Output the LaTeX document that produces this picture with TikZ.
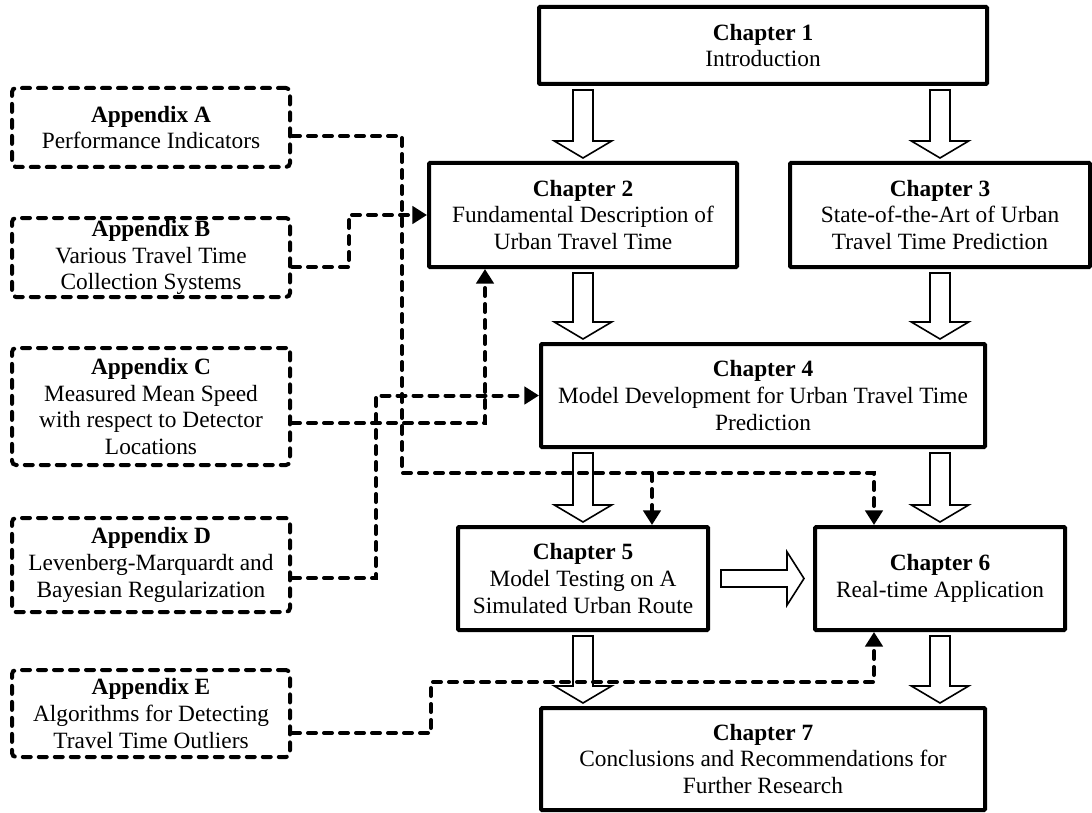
\documentclass[tikz,border=0pt]{standalone}
\usepackage{fontspec}
\setmainfont{Liberation Serif}
\usetikzlibrary{calc,arrows.meta}

% hollow block arrow pointing down, from #1 (tail) to #2 (tip)
\newcommand\hollowdown[2]{%
  \draw[hollow] let \p1=(#1), \p2=(#2) in
    (\x1-7.5pt,\y1) -- (\x1-7.5pt,\y2+12.75pt) -- (\x1-21.5pt,\y2+12.75pt) -- (\x1,\y2)
    -- (\x1+21.5pt,\y2+12.75pt) -- (\x1+7.5pt,\y2+12.75pt) -- (\x1+7.5pt,\y1) -- cycle;}
% hollow block arrow pointing right
\newcommand\hollowright[2]{%
  \draw[hollow] let \p1=(#1), \p2=(#2) in
    (\x1,\y1+6.4pt) -- (\x2-12.75pt,\y1+6.4pt) -- (\x2-12.75pt,\y1+20pt) -- (\x2,\y1)
    -- (\x2-12.75pt,\y1-20pt) -- (\x2-12.75pt,\y1-6.4pt) -- (\x1,\y1-6.4pt) -- cycle;}

\begin{document}
\begin{tikzpicture}[x=0.75pt,y=-0.75pt,
  txt/.style={font=\fontsize{17.5}{20}\selectfont,align=center,inner sep=0pt},
  chap/.style={txt,draw,line width=3pt,rounded corners=0.8pt},
  appx/.style={txt,draw,line width=3pt,dash pattern=on 6pt off 6pt,line cap=round,rounded corners=3pt},
  dconn/.style={line width=3pt,dash pattern=on 6pt off 6pt,line cap=round,
                -{Triangle[length=11pt,width=13pt]}},
  hollow/.style={draw,line width=1.2pt,fill=white,line join=miter},
]
\fill[white] (0,0) rectangle (1092,813);
\useasboundingbox (0,0) rectangle (1092,813);

% column positions
\coordinate (colL) at (583,0);
\coordinate (colR) at (940,0);
\coordinate (tap5) at (652,0);
\coordinate (tap6) at (874,0);

% chapters
\node[chap,minimum width=448*0.75pt,minimum height=77*0.75pt] (c1) at (763,45.5)
  {\textbf{Chapter 1}\\Introduction};
\node[chap,minimum width=308*0.75pt,minimum height=104*0.75pt] (c2) at (583,215)
  {\textbf{Chapter 2}\\Fundamental Description of\\Urban Travel Time};
\node[chap,minimum width=300*0.75pt,minimum height=104*0.75pt] (c3) at (940,215)
  {\textbf{Chapter 3}\\State-of-the-Art of Urban\\Travel Time Prediction};
\node[chap,minimum width=444*0.75pt,minimum height=103*0.75pt] (c4) at (763,395.5)
  {\textbf{Chapter 4}\\Model Development for Urban Travel Time\\Prediction};
\node[chap,minimum width=250*0.75pt,minimum height=103*0.75pt] (c5) at (583,578.5)
  {\textbf{Chapter 5}\\Model Testing on A\\Simulated Urban Route};
\node[chap,minimum width=250*0.75pt,minimum height=103*0.75pt] (c6) at (940,578.5)
  {\textbf{Chapter 6}\\Real-time Application};
\node[chap,minimum width=444*0.75pt,minimum height=102*0.75pt] (c7) at (763,759)
  {\textbf{Chapter 7}\\Conclusions and Recommendations for\\Further Research};

% appendices
\node[appx,minimum width=278*0.75pt,minimum height=79*0.75pt] (appA) at (151,127.5)
  {\textbf{Appendix A}\\Performance Indicators};
\node[appx,minimum width=278*0.75pt,minimum height=79*0.75pt] (appB) at (151,257.5)
  {\textbf{Appendix B}\\Various Travel Time\\Collection Systems};
\node[appx,minimum width=278*0.75pt,minimum height=117*0.75pt] (appC) at (151,406.5)
  {\textbf{Appendix C}\\Measured Mean Speed\\with respect to Detector\\Locations};
\node[appx,minimum width=278*0.75pt,minimum height=94*0.75pt] (appD) at (151,565)
  {\textbf{Appendix D}\\Levenberg-Marquardt and\\Bayesian Regularization};
\node[appx,minimum width=278*0.75pt,minimum height=87*0.75pt] (appE) at (151,713.5)
  {\textbf{Appendix E}\\Algorithms for Detecting\\Travel Time Outliers};

% reading order between chapters
\hollowdown{$(c1.south -| colL)+(0,4)$}{$(c2.north -| colL)+(0,-3)$}
\hollowdown{$(c1.south -| colR)+(0,4)$}{$(c3.north -| colR)+(0,-3)$}
\hollowdown{$(c2.south -| colL)+(0,4)$}{$(c4.north -| colL)+(0,-3)$}
\hollowdown{$(c3.south -| colR)+(0,4)$}{$(c4.north -| colR)+(0,-3)$}
\hollowdown{$(c4.south -| colL)+(0,4)$}{$(c5.north -| colL)+(0,-3)$}
\hollowdown{$(c4.south -| colR)+(0,4)$}{$(c6.north -| colR)+(0,-3)$}
\hollowdown{$(c5.south -| colL)+(0,4)$}{$(c7.north -| colL)+(0,-3)$}
\hollowdown{$(c6.south -| colR)+(0,4)$}{$(c7.north -| colR)+(0,-3)$}
\hollowright{$(c5.east)+(11,0)$}{$(c6.west)+(-9,0)$}

% appendix references
\coordinate (jA) at (402,473);
\draw[dconn] ($(appA.east)+(0,8.5)$) -| (jA) -- (jA -| tap6) -- (c6.north -| tap6);
\draw[dconn] (jA -| tap5) -- (c5.north -| tap5);
\draw[dconn] ($(appB.east)+(0,9.5)$) -- ++(57,0) |- (c2.west);
\draw[dconn] ($(appC.east)+(0,16.5)$) -| ($(c2.south)+(-98,0)$);
\draw[dconn] ($(appD.east)+(0,13)$) -- ++(84,0) |- (c4.west);
\draw[dconn] ($(appE.east)+(0,19.5)$) -- ++(139,0) -- ++(0,-51) -| (c6.south -| tap6);
\end{tikzpicture}
\end{document}
